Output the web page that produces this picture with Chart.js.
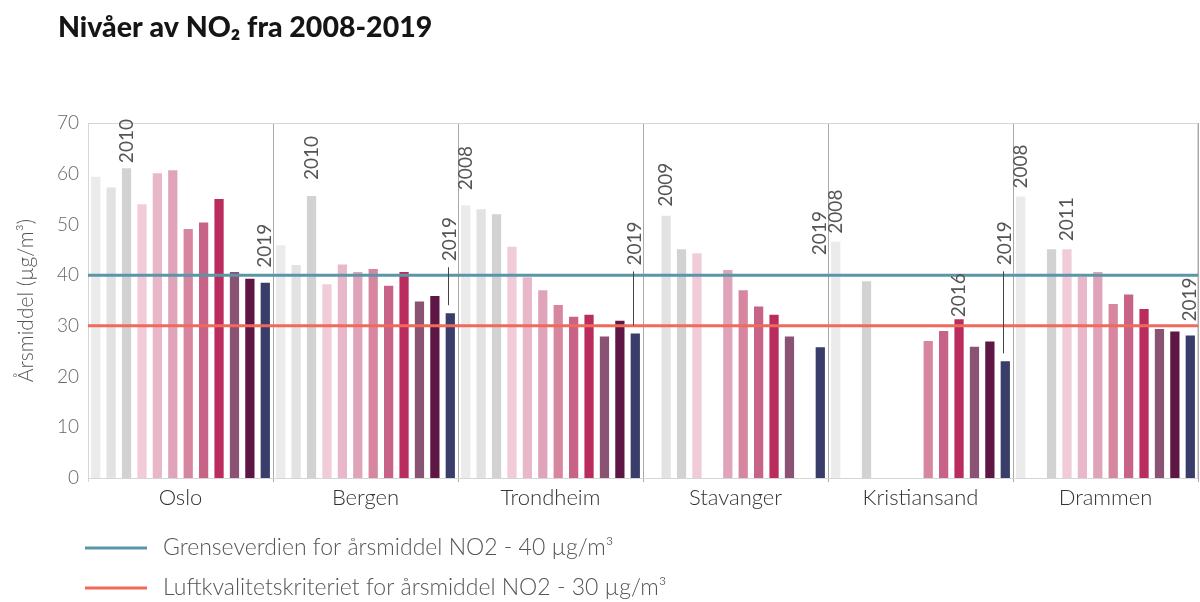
<!DOCTYPE html>
<html>
<head>
<meta charset="utf-8">
<title>Nivåer av NO₂ fra 2008-2019</title>
<script src="https://cdn.jsdelivr.net/npm/chart.js@4.4.1/dist/chart.umd.min.js"></script>
<style>
  html, body { margin: 0; padding: 0; background: #ffffff; }
  #wrap { width: 1200px; height: 602px; position: relative; }
</style>
</head>
<body>
<div id="wrap"><canvas id="no2" width="1200" height="602"></canvas></div>
<script>
// Byer og år
const cities = ['Oslo', 'Bergen', 'Trondheim', 'Stavanger', 'Kristiansand', 'Drammen'];
const years = [2008, 2009, 2010, 2011, 2012, 2013, 2014, 2015, 2016, 2017, 2018, 2019];

// Årsmiddel NO2 (µg/m³) per år, i samme rekkefølge som byene
const y2008 = [59.4, 45.9, 53.8, null, 46.6, 55.5];
const y2009 = [57.3, 42.0, 53.0, 51.7, null, null];
const y2010 = [61.1, 55.6, 52.0, 45.1, 38.8, 45.1];
const y2011 = [54.0, 38.2, 45.6, 44.3, null, 45.1];
const y2012 = [60.1, 42.1, 39.6, null, null, 39.7];
const y2013 = [60.7, 40.6, 37.0, 41.0, null, 40.6];
const y2014 = [49.1, 41.2, 34.1, 37.0, 27.0, 34.3];
const y2015 = [50.4, 37.9, 31.8, 33.8, 29.0, 36.2];
const y2016 = [55.0, 40.6, 32.2, 32.2, 31.3, 33.3];
const y2017 = [40.6, 34.8, 27.9, 27.9, 25.9, 29.4];
const y2018 = [39.3, 35.9, 31.0, null, 26.9, 28.9];
const y2019 = [38.5, 32.5, 28.5, 25.8, 23.0, 28.1];
const valuesByYear = [y2008, y2009, y2010, y2011, y2012, y2013, y2014, y2015, y2016, y2017, y2018, y2019];

// Y-akse
const yTicks = [0, 10, 20, 30, 40, 50, 60, 70];

// Grense- og kriterieverdier
const limitLabels = [
  'Grenseverdien for årsmiddel NO2 - 40 µg/m³',
  'Luftkvalitetskriteriet for årsmiddel NO2 - 30 µg/m³'
];
const limitValues = [40, 30];

// Årstall som vises over utvalgte søyler
const yearNotes = [
  { city: 'Oslo', year: 2010, gap: 5 },
  { city: 'Oslo', year: 2019, gap: 15 },
  { city: 'Bergen', year: 2010, gap: 16 },
  { city: 'Bergen', year: 2019, gap: 52, leader: true },
  { city: 'Trondheim', year: 2008, gap: 15 },
  { city: 'Trondheim', year: 2019, gap: 68, leader: true },
  { city: 'Stavanger', year: 2009, gap: 9 },
  { city: 'Stavanger', year: 2019, gap: 92 },
  { city: 'Kristiansand', year: 2008, gap: 8 },
  { city: 'Kristiansand', year: 2016, gap: 2 },
  { city: 'Kristiansand', year: 2019, gap: 96, leader: true },
  { city: 'Drammen', year: 2008, gap: 8 },
  { city: 'Drammen', year: 2011, gap: 8 },
  { city: 'Drammen', year: 2019, gap: 14 }
];

const yearColors = [
  '#ebebeb', '#e2e2e2', '#d2d2d2',
  '#f1cbd8', '#e8b7c9', '#dfa4ba',
  '#d6879f', '#c86287', '#bb2c5e',
  '#8a5273', '#5e1745', '#393d6a'
];
const limitColors = ['#5a95a8', '#f06a5c'];

const FONT = 'Lato, "Open Sans", sans-serif';

const datasets = years.map((yr, i) => ({
  label: String(yr),
  data: valuesByYear[i],
  backgroundColor: yearColors[i],
  borderWidth: 0,
  categoryPercentage: 1.0,
  barPercentage: 0.6
}));

// Ramme rundt plottområdet
const framePlugin = {
  id: 'frame',
  beforeDatasetsDraw(chart) {
    const { ctx, chartArea: a } = chart;
    ctx.save();
    ctx.strokeStyle = '#d6d6d6';
    ctx.lineWidth = 1;
    ctx.strokeRect(a.left + 0.5, a.top + 0.5, a.right - a.left - 1, a.bottom - a.top);
    ctx.restore();
  }
};

// Horisontale linjer for grenseverdi og kriterium
const limitLinesPlugin = {
  id: 'limitLines',
  afterDatasetsDraw(chart) {
    const { ctx, chartArea: a, scales } = chart;
    ctx.save();
    ctx.lineWidth = 3;
    limitValues.forEach((v, i) => {
      const y = scales.y.getPixelForValue(v);
      ctx.strokeStyle = limitColors[i];
      ctx.beginPath();
      ctx.moveTo(a.left, y);
      ctx.lineTo(a.right, y);
      ctx.stroke();
    });
    ctx.restore();
  }
};

// Loddrette årstall over søylene, med strek der teksten står høyt
const yearNotesPlugin = {
  id: 'yearNotes',
  afterDatasetsDraw(chart) {
    const { ctx } = chart;
    ctx.save();
    ctx.font = '400 19px ' + FONT;
    ctx.fillStyle = '#555555';
    yearNotes.forEach(n => {
      const di = years.indexOf(n.year);
      const ci = cities.indexOf(n.city);
      const bar = chart.getDatasetMeta(di).data[ci];
      if (!bar) return;
      const x = bar.x;
      const top = bar.y;
      const bottom = top - n.gap;
      ctx.save();
      ctx.translate(x, bottom);
      ctx.rotate(-Math.PI / 2);
      ctx.textAlign = 'left';
      ctx.textBaseline = 'middle';
      ctx.fillText(String(n.year), 0, 0);
      ctx.restore();
      if (n.leader) {
        ctx.strokeStyle = '#444444';
        ctx.lineWidth = 1;
        ctx.beginPath();
        ctx.moveTo(Math.round(x) - 1.5, bottom + 6);
        ctx.lineTo(Math.round(x) - 1.5, top - 8);
        ctx.stroke();
      }
    });
    ctx.restore();
  }
};

// Tittel og forklaring
const titleLegendPlugin = {
  id: 'titleLegend',
  afterDraw(chart) {
    const { ctx } = chart;
    ctx.save();
    ctx.fillStyle = '#151515';
    ctx.font = '900 28.5px ' + FONT;
    ctx.textAlign = 'left';
    ctx.textBaseline = 'middle';
    ctx.fillText('Nivåer av NO₂ fra 2008-2019', 58, 28);

    ctx.font = '300 23px ' + FONT;
    limitLabels.forEach((t, i) => {
      const y = 548 + i * 40;
      ctx.strokeStyle = limitColors[i];
      ctx.lineWidth = 3;
      ctx.beginPath();
      ctx.moveTo(85, y);
      ctx.lineTo(147, y);
      ctx.stroke();
      ctx.fillStyle = '#555555';
      ctx.fillText(t, 163, y);
    });
    ctx.restore();
  }
};

new Chart(document.getElementById('no2'), {
  type: 'bar',
  data: { labels: cities, datasets },
  options: {
    responsive: false,
    animation: false,
    devicePixelRatio: 1,
    layout: { padding: { top: 123, bottom: 90, left: 0, right: 2 } },
    plugins: {
      legend: { display: false },
      title: { display: false },
      tooltip: { enabled: false }
    },
    scales: {
      x: {
        grid: {
          display: true,
          offset: true,
          drawOnChartArea: true,
          drawTicks: true,
          tickLength: 4,
          color: ctx => (ctx.index === 0 || ctx.index === cities.length) ? '#d6d6d6' : '#a9a9a9',
          lineWidth: 1
        },
        border: { display: false },
        ticks: {
          color: '#333333',
          padding: 3,
          font: { family: FONT, size: 22, weight: '300' }
        },
        afterFit(scale) { scale.height = 34; }
      },
      y: {
        min: 0,
        max: 70,
        afterBuildTicks(scale) { scale.ticks = yTicks.map(v => ({ value: v })); },
        grid: { display: false, drawTicks: false },
        border: { display: false },
        ticks: {
          color: '#666666',
          padding: 9,
          font: { family: FONT, size: 19, weight: '300' }
        },
        title: {
          display: true,
          text: 'Årsmiddel (µg/m³)',
          color: '#555555',
          padding: { top: 14, bottom: 0 },
          font: { family: FONT, size: 21, weight: '300' }
        },
        afterFit(scale) { scale.width = 88; }
      }
    }
  },
  plugins: [framePlugin, limitLinesPlugin, yearNotesPlugin, titleLegendPlugin]
});
</script>
</body>
</html>
